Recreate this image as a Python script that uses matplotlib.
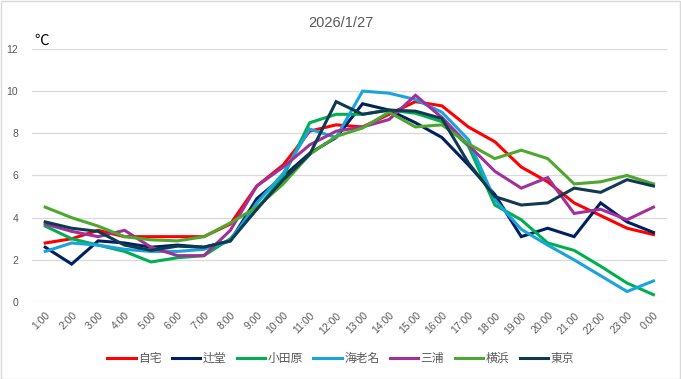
import matplotlib
matplotlib.use("Agg")
import matplotlib.pyplot as plt
from matplotlib.patches import Rectangle

plt.rcParams['font.family'] = ['Liberation Sans', 'Noto Sans CJK JP', 'DejaVu Sans']

hours = ["1:00", "2:00", "3:00", "4:00", "5:00", "6:00", "7:00", "8:00", "9:00", "10:00",
         "11:00", "12:00", "13:00", "14:00", "15:00", "16:00", "17:00", "18:00", "19:00",
         "20:00", "21:00", "22:00", "23:00", "0:00"]

jitaku   = [2.8, 3.0, 3.4, 3.1, 3.1, 3.1, 3.1, 3.7, 5.5, 6.5, 8.1, 8.4, 8.3, 8.9, 9.5, 9.3, 8.3, 7.6, 6.4, 5.7, 4.7, 4.1, 3.5, 3.2]
tsujido  = [2.6, 1.8, 2.9, 2.8, 2.6, 2.7, 2.6, 2.9, 4.9, 5.95, 7.05, 7.8, 9.4, 9.1, 8.5, 7.8, 6.5, 5.1, 3.1, 3.5, 3.1, 4.7, 3.8, 3.3]
odawara  = [3.6, 3.0, 2.7, 2.4, 1.9, 2.1, 2.2, 3.0, 4.4, 5.95, 8.5, 8.9, 8.9, 9.1, 8.95, 8.55, 7.4, 4.6, 3.9, 2.8, 2.45, 1.7, 0.9, 0.35]
ebina    = [2.4, 2.8, 2.7, 2.5, 2.4, 2.4, 2.5, 2.9, 4.7, 6.1, 8.2, 7.8, 10.0, 9.9, 9.6, 9.0, 7.7, 4.85, 3.45, 2.7, 2.0, 1.25, 0.5, 1.0]
miura    = [3.7, 3.35, 3.1, 3.4, 2.6, 2.2, 2.2, 3.4, 5.5, 6.4, 7.45, 8.1, 8.3, 8.65, 9.8, 8.75, 7.45, 6.2, 5.4, 5.9, 4.2, 4.4, 3.9, 4.5]
yokohama = [4.5, 4.0, 3.6, 3.1, 2.95, 2.9, 3.1, 3.75, 4.5, 5.6, 7.0, 7.85, 8.25, 9.0, 8.3, 8.4, 7.5, 6.8, 7.2, 6.8, 5.6, 5.7, 6.0, 5.6]
tokyo    = [3.8, 3.5, 3.35, 2.7, 2.45, 2.65, 2.6, 2.9, 4.4, 5.8, 7.0, 9.5, 8.9, 9.1, 9.05, 8.7, 6.6, 5.0, 4.6, 4.7, 5.4, 5.2, 5.8, 5.5]

series_names = ["自宅", "辻堂", "小田原", "海老名", "三浦", "横浜", "東京"]
series_values = [jitaku, tsujido, odawara, ebina, miura, yokohama, tokyo]
colors = ["#FF0000", "#002060", "#00B050", "#1AA3DC", "#A0309A", "#4EA72E", "#0F3A52"]

yticks = [0, 2, 4, 6, 8, 10, 12]

fig = plt.figure(figsize=(6.81, 3.79), dpi=100)
ax = fig.add_axes([0.047, 0.203, 0.932, 0.668])

x = list(range(len(hours)))
for name, vals, c in zip(series_names, series_values, colors):
    ax.plot(x, vals, color=c, lw=2.2, label=name, solid_joinstyle='miter')

ax.set_xlim(-0.5, len(hours) - 0.5)
ax.set_ylim(0, 12)
ax.set_yticks(yticks)
ax.set_yticklabels([str(v) for v in yticks])
ax.set_xticks(x)
ax.set_xticklabels(hours, rotation=45, ha='right', rotation_mode='anchor')
ax.grid(axis='y', color='#D9D9D9', lw=0.9)
ax.set_axisbelow(True)
for s in ax.spines.values():
    s.set_visible(False)
ax.tick_params(axis='both', length=0, colors='#595959', labelsize=7.5)
ax.tick_params(axis='y', pad=10)
ax.tick_params(axis='x', pad=6)

fig.text(0.5, 0.94, "2026/1/27", ha='center', va='center', fontsize=10.5, color='#595959')
fig.text(0.050, 0.893, "℃", ha='left', va='center', fontsize=10.5, color='#000000',
         family=['Noto Sans CJK JP', 'DejaVu Sans'])

leg = fig.legend(loc='center', bbox_to_anchor=(0.5, 0.055), ncol=7, frameon=False,
                 handlelength=2.4, handletextpad=0.2, columnspacing=0.9,
                 prop={'family': ['Noto Sans CJK JP', 'DejaVu Sans'], 'size': 8.5})
for t in leg.get_texts():
    t.set_color('#595959')

fig.patches.append(Rectangle((0.001, 0.001), 0.997, 0.997, transform=fig.transFigure,
                             fill=False, edgecolor='#D9D9D9', lw=1))

fig.savefig("out.png", dpi=100)
